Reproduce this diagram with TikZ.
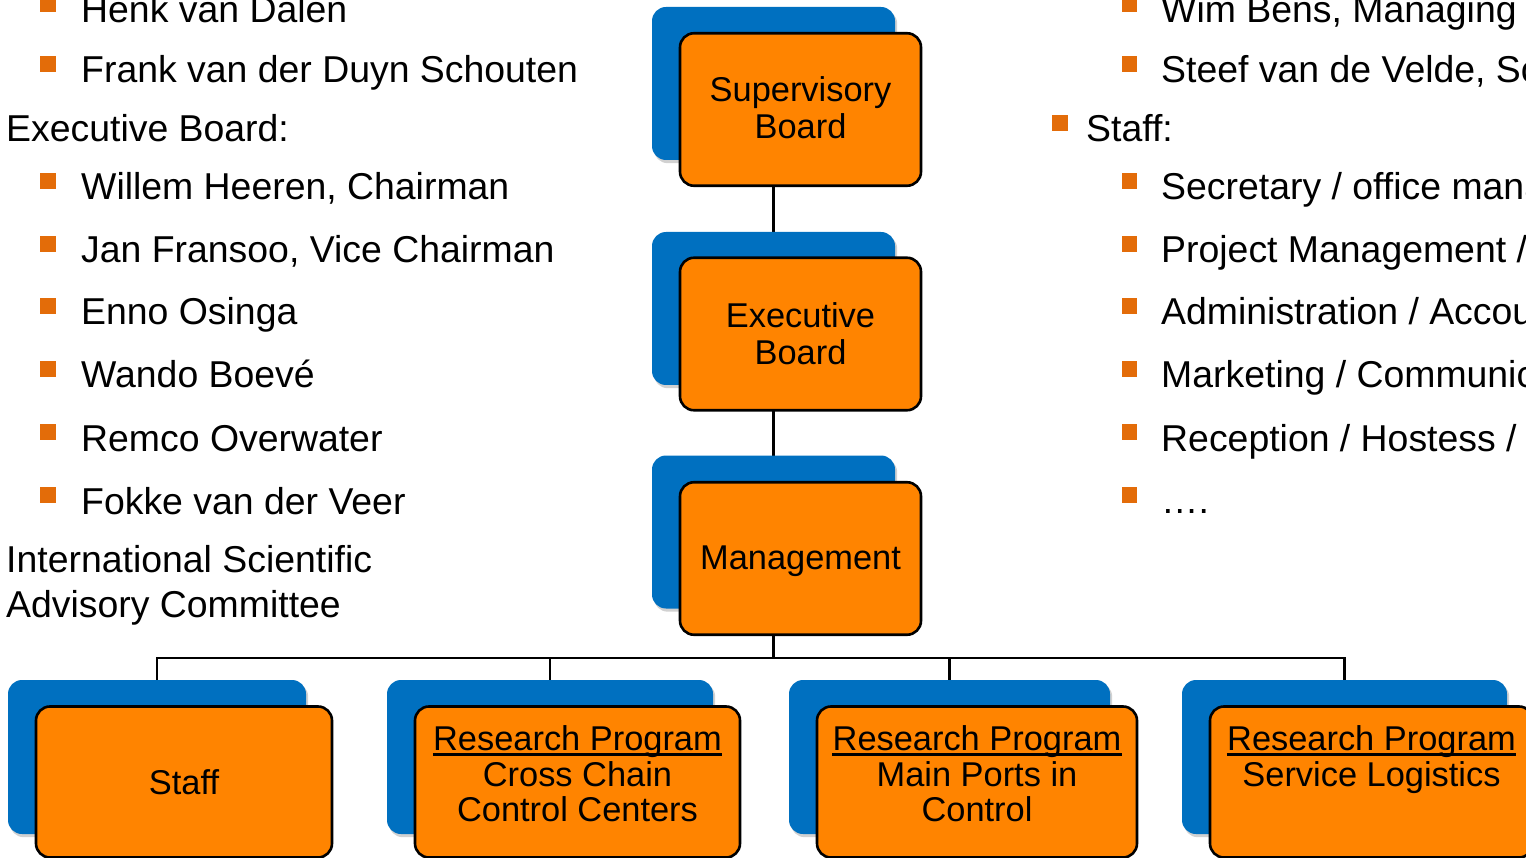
\documentclass[tikz,border=0pt]{standalone}
\usepackage{fontspec}
\setmainfont{Liberation Sans}
\usetikzlibrary{backgrounds}
\definecolor{boxorange}{RGB}{255,132,0}
\definecolor{boxblue}{RGB}{0,112,192}
\definecolor{bulorange}{RGB}{227,108,9}
\tikzset{
  bluebox/.style={rectangle, rounded corners=14pt, fill=boxblue, inner sep=0pt},
  orangebox/.style={rectangle, rounded corners=14pt, fill=boxorange, draw=black, line width=2.6pt, inner sep=0pt},
  shadowbox/.style={fill=black, opacity=0.18, rounded corners=14pt},
  conn/.style={draw=black, line width=2.2pt},
  lbl/.style={inner sep=0pt, anchor=base west, font=\fontsize{37.4}{44}\selectfont},
  btxt/.style={inner sep=0pt, anchor=base, font=\fontsize{34.4}{37}\selectfont},
  bul/.style={rectangle, fill=bulorange, minimum size=15.5pt, inner sep=0pt},
  uline/.style={draw=black, line width=2.5pt}
}
\begin{document}
\begin{tikzpicture}[x=1pt,y=-1pt]
\useasboundingbox (0,0) rectangle (1526,858);
\clip (0,0) rectangle (1526,858);

% ---- left list
\node[bul] (lb1) at (48,4) {};
\node[lbl] (l1) at (81,23) {Henk van Dalen};
\node[bul] (lb2) at (48,64) {};
\node[lbl] (l2) at (81,83) {Frank van der Duyn Schouten};
\node[lbl] (l3) at (6,142) {Executive Board:};
\node[bul] (lb4) at (48,181) {};
\node[lbl] (l4) at (81,200) {Willem Heeren, Chairman};
\node[bul] (lb5) at (48,244) {};
\node[lbl] (l5) at (81,263) {Jan Fransoo, Vice Chairman};
\node[bul] (lb6) at (48,306) {};
\node[lbl] (l6) at (81,325) {Enno Osinga};
\node[bul] (lb7) at (48,369) {};
\node[lbl] (l7) at (81,388) {Wando Boevé};
\node[bul] (lb8) at (48,432) {};
\node[lbl] (l8) at (81,451) {Remco Overwater};
\node[bul] (lb9) at (48,495) {};
\node[lbl] (l9) at (81,514) {Fokke van der Veer};
\node[lbl] (l10) at (6,572) {International Scientific};
\node[lbl] (l11) at (6,617) {Advisory Committee};

% ---- right list
\node[bul] (rb1) at (1129.5,4) {};
\node[lbl] (r1) at (1161,23) {Wim Bens, Managing};
\node[bul] (rb2) at (1129.5,64) {};
\node[lbl] (r2) at (1161,83) {Steef van de Velde, Sc};
\node[bul, minimum size=16pt] (rb3) at (1060,123) {};
\node[lbl] (r3) at (1086,142) {Staff:};
\node[bul] (rb4) at (1129.5,181) {};
\node[lbl] (r4) at (1161,200) {Secretary / office mana};
\node[bul] (rb5) at (1129.5,244) {};
\node[lbl] (r5) at (1161,263) {Project Management /};
\node[bul] (rb6) at (1129.5,306) {};
\node[lbl] (r6) at (1161,325) {Administration / Accou};
\node[bul] (rb7) at (1129.5,369) {};
\node[lbl] (r7) at (1161,388) {Marketing / Communic};
\node[bul] (rb8) at (1129.5,432) {};
\node[lbl] (r8) at (1161,451) {Reception / Hostess /};
\node[bul] (rb9) at (1129.5,495) {};
\node[lbl] (r9) at (1161,513) {….};

% ---- boxes (blue back, orange front)
\node[bluebox, minimum width=243pt, minimum height=153pt] (bsup) at (773.5,83.5) {};
\node[orangebox, minimum width=241pt, minimum height=152.5pt] (sup) at (800.5,109.5) {};
\node[btxt] (sup1) at (800.5,102) {Supervisory};
\node[btxt] (sup2) at (800.5,139) {Board};

\node[bluebox, minimum width=243pt, minimum height=153pt] (bexe) at (773.5,308.5) {};
\node[orangebox, minimum width=241pt, minimum height=152.5pt] (exe) at (800.5,334) {};
\node[btxt] (exe1) at (800.5,328) {Executive};
\node[btxt] (exe2) at (800.5,364.5) {Board};

\node[bluebox, minimum width=243pt, minimum height=153pt] (bman) at (773.5,532) {};
\node[orangebox, minimum width=241pt, minimum height=152.5pt] (man) at (800.5,558.5) {};
\node[btxt] (man1) at (800.5,569) {Management};

\node[bluebox, minimum width=298pt, minimum height=154pt] (bstaff) at (157,757) {};
\node[orangebox, minimum width=296pt, minimum height=151pt] (staff) at (184,782) {};
\node[btxt] (staff1) at (184,794) {Staff};

\node[bluebox, minimum width=326pt, minimum height=154pt] (b1) at (550,757) {};
\node[orangebox, minimum width=325pt, minimum height=151pt] (o1) at (577.5,782) {};
\node[btxt] (rp1) at (577.5,750) {Research Program};
\node[btxt] (o1b) at (577.5,786) {Cross Chain};
\node[btxt] (o1c) at (577.5,821) {Control Centers};

\node[bluebox, minimum width=321pt, minimum height=154pt] (b2) at (949.5,757) {};
\node[orangebox, minimum width=320pt, minimum height=151pt] (o2) at (977,782) {};
\node[btxt] (rp2) at (977,750) {Research Program};
\node[btxt] (o2b) at (977,786) {Main Ports in};
\node[btxt] (o2c) at (977,821) {Control};

\node[bluebox, minimum width=325pt, minimum height=154pt] (b3) at (1344.5,757) {};
\node[orangebox, minimum width=323pt, minimum height=151pt] (o3) at (1371.5,782) {};
\node[btxt] (rp3) at (1371.5,750) {Research Program};
\node[btxt] (o3b) at (1371.5,786) {Service Logistics};

\foreach \r in {rp1,rp2,rp3}
  \draw[uline] ([yshift=-4.5pt]\r.base west) -- ([yshift=-4.5pt]\r.base east);

% ---- shadows and connectors behind the boxes
\begin{pgfonlayer}{background}
  \foreach \b in {bsup,bexe,bman,bstaff,b1,b2,b3}
    \fill[shadowbox] ([shift={(2,3)}]\b.south west) rectangle ([shift={(2,3)}]\b.north east);
  \coordinate (bus) at (773.5,658);
  \draw[conn] (bsup.center) -- (bexe.center);
  \draw[conn] (bexe.center) -- (bman.center);
  \draw[conn] (bman.center) -- (bus);
  \draw[conn] (bstaff.north) -- (bstaff.north |- bus) -- (b3.north |- bus) -- (b3.north);
  \draw[conn] (b1.north) -- (b1.north |- bus);
  \draw[conn] (b2.north) -- (b2.north |- bus);
\end{pgfonlayer}
\end{tikzpicture}
\end{document}
